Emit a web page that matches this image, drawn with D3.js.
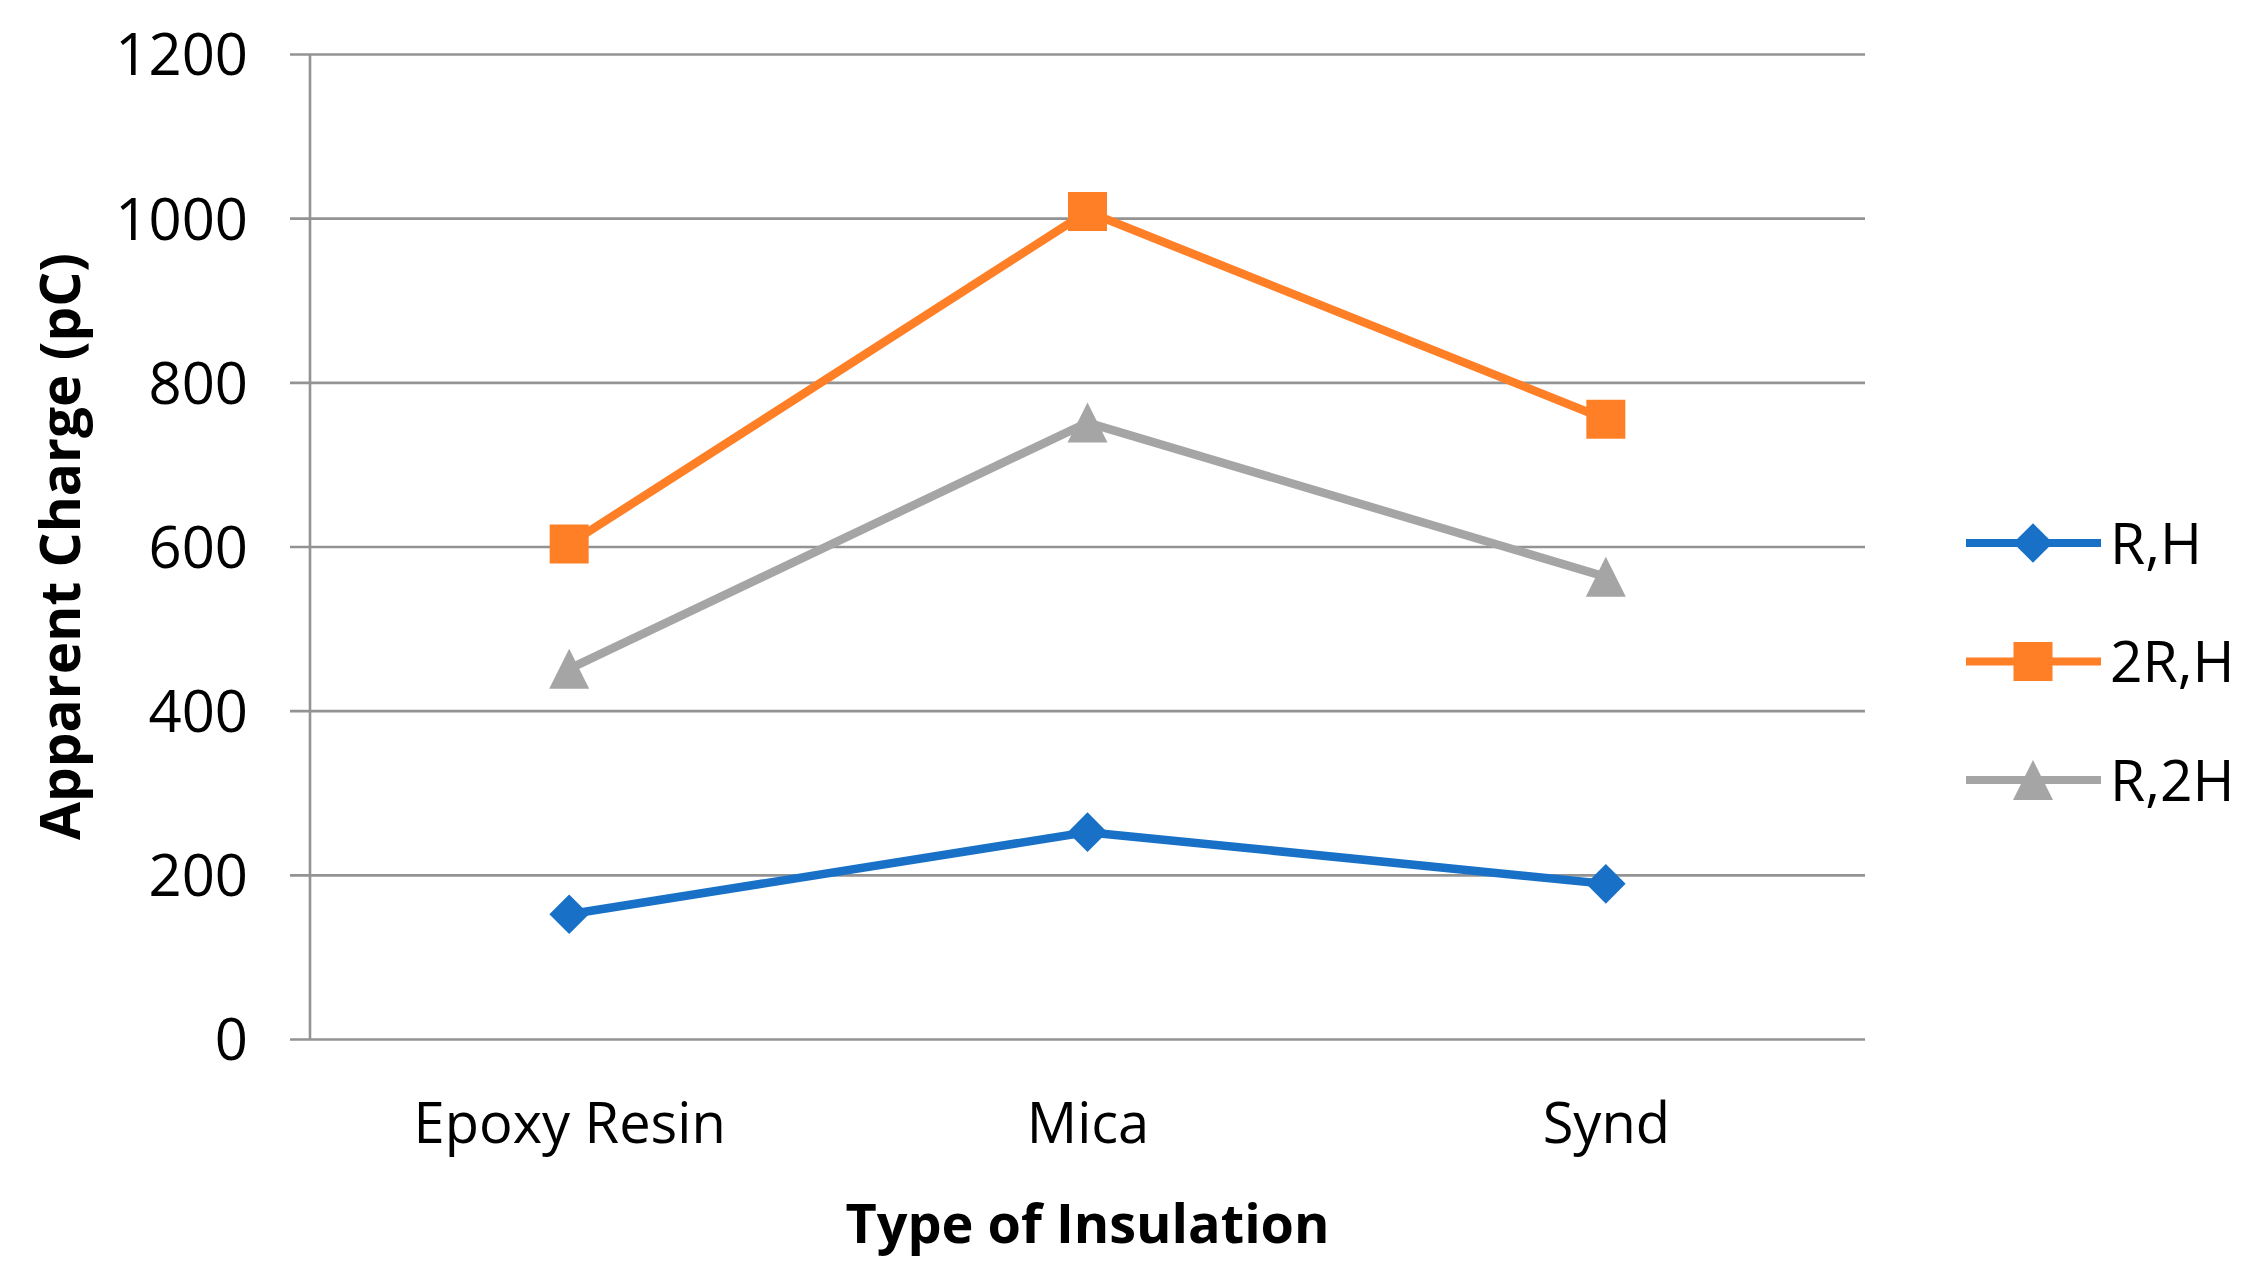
<!DOCTYPE html>
<html>
<head>
<meta charset="utf-8">
<script src="https://cdn.jsdelivr.net/npm/d3@7"></script>
<style>
  body { margin: 0; background: #fff; }
  text { font-family: "Open Sans", "Noto Sans", sans-serif; fill: #000; }
</style>
</head>
<body>
<svg id="chart" width="2253" height="1269"></svg>
<script>
// data
var categories = ["Epoxy Resin", "Mica", "Synd"];
var seriesNames = ["R,H", "2R,H", "R,2H"];
var valuesRH  = [152, 252, 189];
var values2RH = [603, 1008, 755];
var valuesR2H = [451, 751, 563];
var yTicks = [0, 200, 400, 600, 800, 1000, 1200];

var colors = ["#1871c6", "#ff7f27", "#a5a5a5"];

var svg = d3.select("#chart");

// plot frame (window.top is reserved, so use other names)
var plotLeft = 310, plotRight = 1865, plotTop = 54, plotBottom = 1039;
var W = plotRight - plotLeft, H = plotBottom - plotTop;

var x = d3.scalePoint().domain(categories).range([0, W]).padding(0.5);
var y = d3.scaleLinear().domain([0, 1200]).range([H, 0]);

var g = svg.append("g").attr("transform", "translate(" + plotLeft + "," + plotTop + ")");

// y axis + gridlines
var yAxis = g.append("g")
    .call(d3.axisLeft(y).tickValues(yTicks).tickFormat(d3.format("d"))
      .tickSize(0).tickPadding(62));
yAxis.select(".domain").remove();
yAxis.selectAll(".tick line")
    .attr("x1", -20).attr("x2", W)
    .attr("stroke", "#939393").attr("stroke-width", 2.6);
yAxis.selectAll(".tick text")
    .attr("font-size", 58).attr("font-family", "Open Sans")
    .attr("fill", "#000").attr("dy", "0.36em");

// vertical axis line
g.append("line")
    .attr("x1", 0).attr("x2", 0).attr("y1", 0).attr("y2", H)
    .attr("stroke", "#939393").attr("stroke-width", 2.6);

// x axis labels
var xAxis = g.append("g").attr("transform", "translate(0," + H + ")")
    .call(d3.axisBottom(x).tickSize(0).tickPadding(64));
xAxis.select(".domain").remove();
xAxis.selectAll(".tick text")
    .attr("font-size", 56).attr("font-family", "Open Sans").attr("fill", "#000");

// axis titles
svg.append("text")
    .attr("transform", "translate(80," + (plotTop + H / 2) + ") rotate(-90)")
    .attr("text-anchor", "middle")
    .attr("font-size", 55).attr("font-weight", "bold")
    .text("Apparent Charge (pC)");

svg.append("text")
    .attr("x", plotLeft + W / 2).attr("y", 1243)
    .attr("text-anchor", "middle")
    .attr("font-size", 54).attr("font-weight", "bold")
    .text("Type of Insulation");

// marker shapes
var triangle = {
  draw: function(ctx, size) {
    var w = Math.sqrt(size), h = w;
    ctx.moveTo(0, -h / 2);
    ctx.lineTo(w / 2, h / 2);
    ctx.lineTo(-w / 2, h / 2);
    ctx.closePath();
  }
};
var markers = [
  { type: d3.symbolSquare, size: 28 * 28, rotate: 45 },
  { type: d3.symbolSquare, size: 39 * 39, rotate: 0 },
  { type: triangle, size: 40 * 40, rotate: 0 }
];

var allValues = [valuesRH, values2RH, valuesR2H];
var line = d3.line()
    .x(function(d, i) { return x(categories[i]); })
    .y(function(d) { return y(d); });

allValues.forEach(function(vals, s) {
  g.append("path")
      .datum(vals)
      .attr("d", line)
      .attr("fill", "none")
      .attr("stroke", colors[s])
      .attr("stroke-width", 8.5)
      .attr("stroke-linejoin", "round");
  g.selectAll(".m" + s)
      .data(vals)
      .enter().append("path")
      .attr("class", "m" + s)
      .attr("d", d3.symbol().type(markers[s].type).size(markers[s].size))
      .attr("transform", function(d, i) {
        return "translate(" + x(categories[i]) + "," + y(d) + ") rotate(" + markers[s].rotate + ")";
      })
      .attr("fill", colors[s]);
});

// legend
var legendY = d3.scalePoint().domain(seriesNames).range([543, 780]);
var lg = svg.append("g");
seriesNames.forEach(function(name, s) {
  var ly = legendY(name);
  lg.append("line")
      .attr("x1", 1966).attr("x2", 2101).attr("y1", ly).attr("y2", ly)
      .attr("stroke", colors[s]).attr("stroke-width", 8);
  lg.append("path")
      .attr("d", d3.symbol().type(markers[s].type).size(markers[s].size))
      .attr("transform", "translate(2033," + ly + ") rotate(" + markers[s].rotate + ")")
      .attr("fill", colors[s]);
  lg.append("text")
      .attr("x", 2110).attr("y", ly).attr("dy", "0.36em")
      .attr("font-size", 57)
      .text(name);
});
</script>
</body>
</html>
